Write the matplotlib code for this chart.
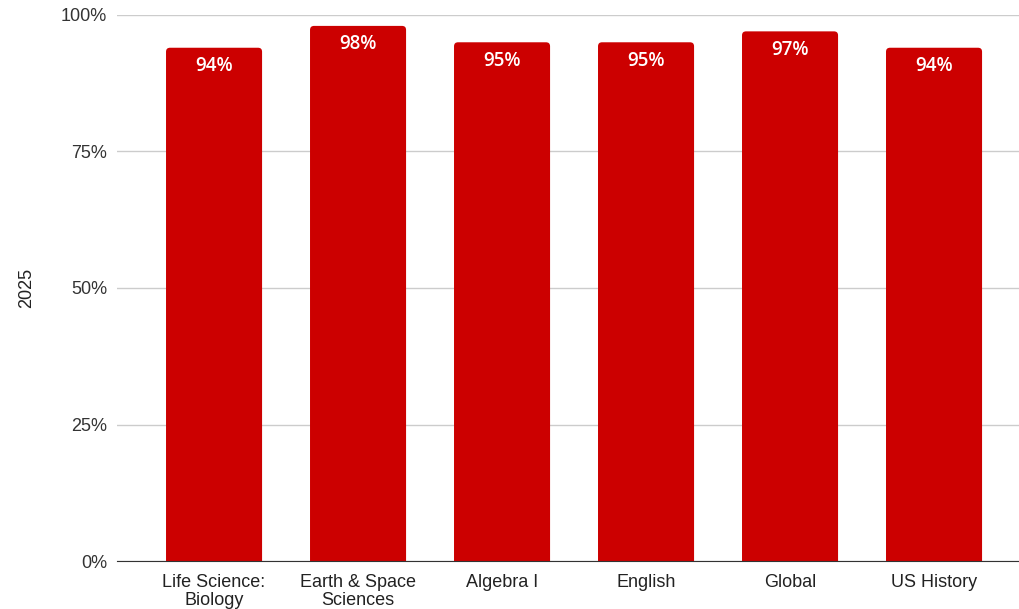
import matplotlib.pyplot as plt
from matplotlib.patches import FancyBboxPatch
from matplotlib.ticker import FuncFormatter

subjects = ["Life Science:\nBiology", "Earth & Space\nSciences", "Algebra I",
            "English", "Global", "US History"]
pass_rate = [94, 98, 95, 95, 97, 94]
y_ticks = [0, 25, 50, 75, 100]

plt.rcParams["font.family"] = ["Liberation Sans", "DejaVu Sans"]

fig = plt.figure(figsize=(10.2, 6.09), dpi=100)
ax = fig.add_axes([0.1147, 0.0788, 0.8853, 0.8966])

x = range(len(subjects))
bars = ax.bar(x, pass_rate, width=0.667, color="#cc0000", zorder=3)

ax.set_xlim(-0.674, 5.597)
ax.set_ylim(0, 100)

# rounded top corners: redraw each bar as a rounded box that starts below 0
px_x = ax.bbox.width / (5.597 + 0.674)
px_y = ax.bbox.height / 100
for b in bars:
    b.set_visible(False)
    r = 4 / px_x
    patch = FancyBboxPatch((b.get_x(), -3), b.get_width(), b.get_height() + 3,
                           boxstyle=f"round,pad=0,rounding_size={r}",
                           mutation_aspect=px_x / px_y,
                           facecolor="#cc0000", edgecolor="none", zorder=3)
    patch.set_clip_path(ax.patch)
    ax.add_patch(patch)

for b, v in zip(bars, pass_rate):
    ax.annotate(f"{v}%", (b.get_x() + b.get_width() / 2, v),
                xytext=(0, -6), textcoords="offset points",
                ha="center", va="top", color="white", fontsize=13.5,
                fontweight="semibold", fontstretch="normal",
                family=["Open Sans", "DejaVu Sans"])

ax.set_yticks(y_ticks)
ax.yaxis.set_major_formatter(FuncFormatter(lambda v, p: f"{v:.0f}%"))
ax.set_xticks(list(x))
ax.set_xticklabels(subjects, fontsize=13, color="#222222", linespacing=1.1)
ax.tick_params(axis="y", labelsize=13, colors="#333333", length=0, pad=7)
ax.tick_params(axis="x", length=0, pad=9)
ax.grid(axis="y", color="#cccccc", linewidth=1, zorder=0)
for s in ["top", "right", "left"]:
    ax.spines[s].set_visible(False)
ax.spines["bottom"].set_color("#333333")
ax.spines["bottom"].set_zorder(4)
ax.set_ylabel("2025", fontsize=13, color="#222222", labelpad=19)

fig.savefig("out.png", dpi=100)
